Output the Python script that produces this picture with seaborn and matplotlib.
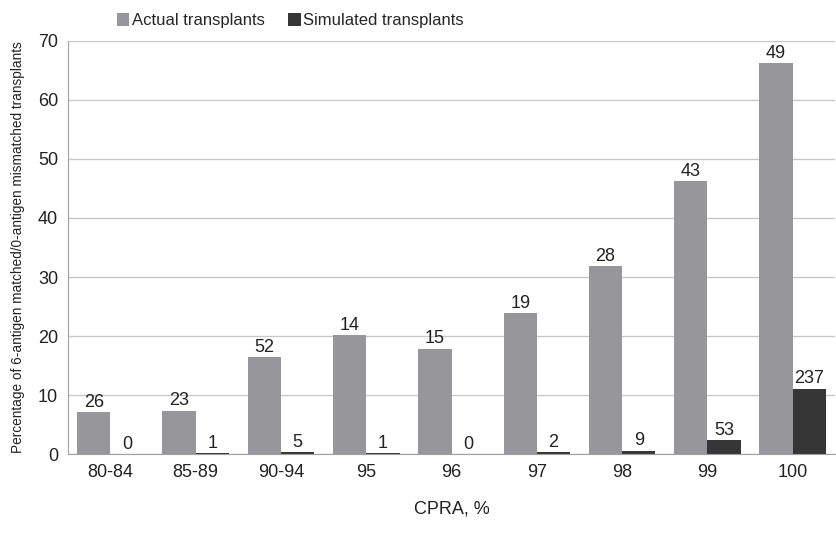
import matplotlib
matplotlib.use("Agg")
import matplotlib.pyplot as plt
import seaborn as sns
import pandas as pd

categories = ["80-84", "85-89", "90-94", "95", "96", "97", "98", "99", "100"]
actual_pct = [7.1, 7.4, 16.4, 20.2, 17.9, 23.9, 31.8, 46.2, 66.2]
simulated_pct = [0.0, 0.2, 0.3, 0.2, 0.0, 0.3, 0.6, 2.4, 11.1]
actual_n = [26, 23, 52, 14, 15, 19, 28, 43, 49]
simulated_n = [0, 1, 5, 1, 0, 2, 9, 53, 237]
series = ["Actual transplants", "Simulated transplants"]
colors = ["#97979b", "#363636"]

df = pd.DataFrame({
    "CPRA": categories * 2,
    "pct": actual_pct + simulated_pct,
    "n": actual_n + simulated_n,
    "series": [series[0]] * len(categories) + [series[1]] * len(categories),
})

sns.set_style("white")
plt.rcParams["font.family"] = ["Liberation Sans", "DejaVu Sans"]

fig = plt.figure(figsize=(8.37, 5.44), dpi=100)
ax = fig.add_axes([0.081, 0.165, 0.917, 0.76])

sns.barplot(data=df, x="CPRA", y="pct", hue="series", order=categories,
            hue_order=series, palette=colors, width=0.78, gap=0,
            saturation=1, linewidth=0, ax=ax, legend=True)

for cont, ns in zip(ax.containers, [actual_n, simulated_n]):
    ax.bar_label(cont, labels=[str(v) for v in ns], padding=1, fontsize=13, color="#222222")

ax.set_ylim(0, 70)
ax.set_yticks(range(0, 71, 10))
ax.set_xlim(-0.5, len(categories) - 0.5)
ax.yaxis.grid(True, color="#c8c8c8", linewidth=1)
ax.set_axisbelow(True)
for s in ["top", "right"]:
    ax.spines[s].set_visible(False)
ax.spines["left"].set_color("#a0a0a0")
ax.spines["bottom"].set_color("#a0a0a0")
ax.tick_params(axis="both", labelsize=13, colors="#222222", length=0, pad=7)
ax.set_xlabel("CPRA, %", fontsize=13, color="#222222", labelpad=14)
ax.set_ylabel("Percentage of 6-antigen matched/0-antigen mismatched transplants",
              fontsize=9.8, color="#222222", labelpad=9)

leg = ax.legend(loc="lower center", bbox_to_anchor=(0.29, 1.0), ncol=2, frameon=False,
                fontsize=12, handlelength=0.75, handleheight=0.75, handletextpad=0.15,
                columnspacing=1.4, borderaxespad=0.35)

fig.savefig("out.png", dpi=100)
